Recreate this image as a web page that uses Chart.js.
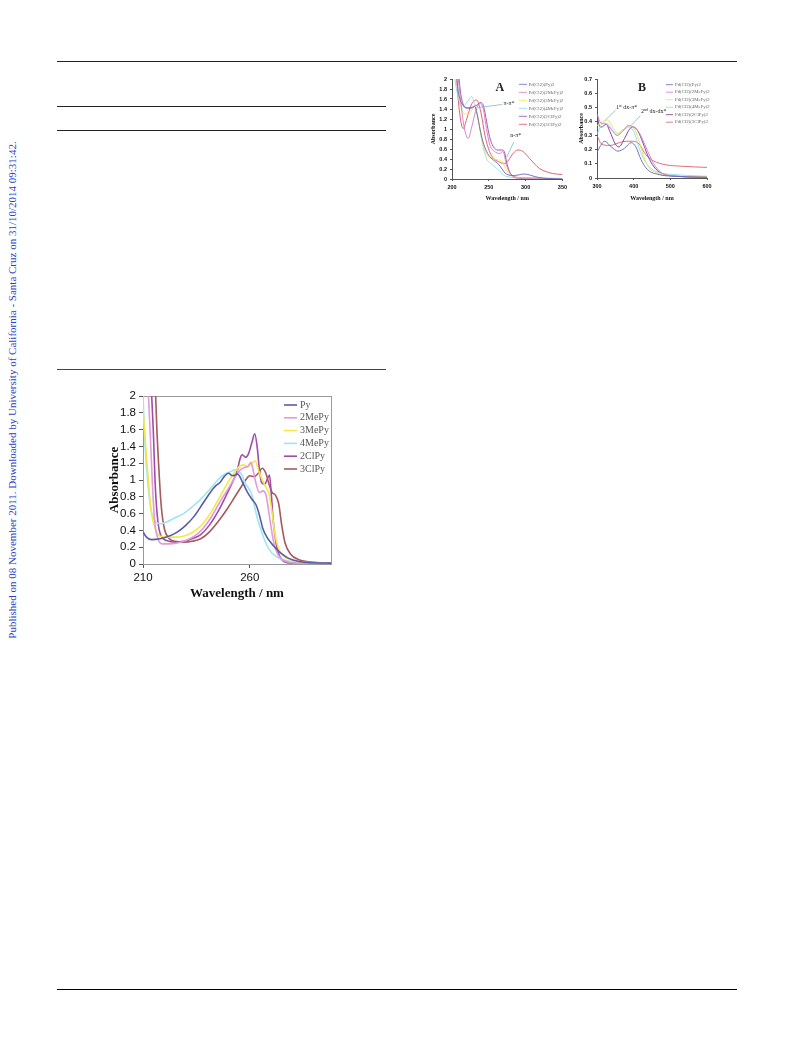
<!DOCTYPE html>
<html>
<head>
<meta charset="utf-8">
<script src="https://cdn.jsdelivr.net/npm/chart.js@4.4.0/dist/chart.umd.min.js"></script>
<style>
  body { margin: 0; background: #fff; width: 793px; height: 1039px; position: relative; overflow: hidden; }
  .rule { position: absolute; height: 1px; background: #222; }
  .side { position: absolute; left: 12px; top: 390px; transform: translate(-50%, -50%) rotate(-90deg);
          white-space: nowrap; font: 11px "Liberation Serif", serif; color: #2b3fc6; }
  .box { position: absolute; }
</style>
</head>
<body>
<div class="rule" style="left:57px;top:61px;width:680px"></div>
<div class="rule" style="left:57px;top:106px;width:329px"></div>
<div class="rule" style="left:57px;top:130px;width:329px"></div>
<div class="rule" style="left:57px;top:369px;width:329px;background:#444"></div>
<div class="rule" style="left:57px;top:989px;width:680px;background:#000"></div>
<div class="side">Published on 08 November 2011. Downloaded by University of California - Santa Cruz on 31/10/2014 09:31:42.</div>

<div class="box" style="left:415px;top:72px"><canvas id="chartA" width="155" height="135"></canvas></div>
<div class="box" style="left:573px;top:72px"><canvas id="chartB" width="142" height="135"></canvas></div>
<div class="box" style="left:100px;top:385px"><canvas id="chartMain" width="240" height="220"></canvas></div>

<script>
// ---- main figure: free ligands ----
const mainNames = ['Py', '2MePy', '3MePy', '4MePy', '2ClPy', '3ClPy'];
const mainXTicks = [210, 260];
const mainPy = [[210,0.38],[212,0.31],[214,0.29],[218,0.3],[222,0.33],[226,0.38],[230,0.46],[234,0.57],[238,0.72],[242,0.87],[244,0.93],[246,0.97],[248,1.04],[250,1.08],[252,1.05],[254.3,1.07],[257,0.95],[259,0.85],[261,0.77],[263,0.7],[264.5,0.58],[266,0.43],[268,0.32],[270,0.25],[272,0.19],[275,0.12],[278,0.07],[283,0.03],[290,0.015],[298,0.01]];
const main2MePy = [[212,2.3],[213.3,1.6],[214.5,0.9],[215.5,0.5],[217,0.3],[219,0.24],[222,0.24],[226,0.25],[230,0.28],[234,0.33],[238,0.42],[242,0.56],[246,0.74],[250,0.9],[253,1.03],[255.5,1.12],[257.5,1.15],[259,1.16],[260.5,1.21],[261.7,1.1],[263,0.95],[264.5,0.85],[266,0.87],[267.5,0.83],[269,0.6],[270.5,0.35],[272,0.18],[274,0.08],[277,0.03],[282,0.01],[298,0.01]];
const main3MePy = [[210,1.85],[211,1.5],[212.5,1.0],[214,0.6],[216,0.4],[218,0.33],[222,0.32],[226,0.32],[230,0.34],[234,0.39],[238,0.48],[242,0.62],[246,0.8],[250,0.98],[253,1.1],[255,1.16],[257,1.18],[259,1.16],[261,1.2],[262.5,1.23],[264,1.12],[265.5,1.02],[267,0.94],[269,0.83],[270.5,0.6],[271.6,0.38],[273,0.22],[274.5,0.13],[277,0.07],[282,0.03],[290,0.015],[298,0.01]];
const main4MePy = [[209.5,2.3],[210,2.0],[211,1.4],[212.5,0.9],[214,0.62],[216,0.5],[218,0.48],[221,0.5],[225,0.55],[229,0.6],[233,0.68],[237,0.77],[241,0.88],[244,0.97],[247,1.05],[249,1.08],[251,1.1],[253,1.12],[255,1.1],[256.5,1.05],[258,0.95],[259.5,0.9],[261,0.82],[262.5,0.65],[264,0.5],[266,0.35],[268,0.22],[270,0.14],[273,0.08],[277,0.04],[283,0.02],[298,0.01]];
const main2ClPy = [[213.5,2.3],[214.8,1.6],[215.8,0.9],[217,0.5],[218.5,0.33],[221,0.28],[225,0.26],[229,0.27],[233,0.3],[237,0.35],[241,0.46],[245,0.62],[249,0.82],[252,0.98],[254,1.1],[255.5,1.26],[256.5,1.3],[258,1.27],[259.5,1.32],[261,1.45],[262.3,1.55],[263.5,1.38],[264.5,1.12],[265.5,0.97],[267,0.95],[268,1.0],[269.2,1.06],[270,0.85],[271,0.5],[272.5,0.22],[274,0.09],[276,0.03],[280,0.01],[298,0.0]];
const main3ClPy = [[215.5,2.3],[216.5,1.6],[217.5,1.1],[218.5,0.7],[220,0.42],[222,0.31],[225,0.27],[229,0.26],[233,0.27],[237,0.3],[241,0.38],[245,0.5],[249,0.64],[253,0.8],[256,0.92],[258,1.0],[260,1.05],[262,1.04],[264,1.08],[265.8,1.14],[267.5,1.08],[269,0.95],[270.5,0.85],[272,0.82],[273.5,0.72],[275,0.45],[276.5,0.25],[279,0.12],[283,0.05],[290,0.02],[298,0.01]];

// ---- panel A: complexes, UV ----
const complexNames = ['Pd(Cl2)(Py)2', 'Pd(Cl2)(2MePy)2', 'Pd(Cl2)(3MePy)2', 'Pd(Cl2)(4MePy)2', 'Pd(Cl2)(2ClPy)2', 'Pd(Cl2)(3ClPy)2'];
const aPy = [[205,2.3],[208,1.8],[212,1.55],[217,1.45],[222,1.42],[227,1.42],[231,1.45],[234,1.3],[238,1.0],[242,0.75],[247,0.55],[253,0.42],[259,0.35],[264,0.28],[268,0.2],[272,0.12],[277,0.08],[283,0.07],[290,0.08],[297,0.1],[303,0.09],[310,0.06],[318,0.03],[330,0.01],[350,0.0]];
const a2MePy = [[206,2.3],[208.6,2.0],[213,1.4],[217,1.0],[222,0.81],[227,1.05],[232,1.35],[237.8,1.51],[242.3,1.41],[246.8,1.01],[251.4,0.68],[258,0.55],[265,0.51],[269.4,0.55],[274,0.28],[280.6,0.08],[292,0.01],[350,0.0]];
const a3MePy = [[204,2.3],[207,1.9],[212,1.45],[217,1.3],[222,1.3],[227,1.38],[231,1.45],[234,1.35],[238,1.0],[242,0.7],[247,0.5],[253,0.42],[258,0.4],[263,0.38],[266,0.37],[270,0.3],[274,0.18],[279,0.08],[285,0.03],[300,0.01],[350,0.0]];
const a4MePy = [[202,2.3],[204,2.0],[209,1.6],[215.3,1.45],[221,1.55],[226.6,1.65],[231,1.48],[235.6,1.21],[240,0.81],[246.8,0.41],[252,0.32],[258,0.25],[265,0.15],[274,0.05],[300,0.02],[350,0.01]];
const a2ClPy = [[208,2.3],[211,1.8],[215,1.5],[219,1.42],[224,1.42],[229,1.45],[234,1.48],[239,1.53],[243,1.45],[247,1.15],[251,0.85],[256,0.65],[262,0.58],[268,0.58],[271,0.55],[274,0.35],[278,0.15],[283,0.06],[290,0.03],[300,0.02],[350,0.01]];
const a3ClPy = [[204,2.3],[206.3,2.0],[209,1.5],[213,1.08],[215.3,1.01],[220,1.2],[226,1.48],[233.3,1.58],[240,1.28],[244.6,0.88],[251,0.55],[256,0.42],[262.6,0.35],[271.6,0.31],[277,0.38],[282.9,0.51],[289.6,0.58],[296.4,0.55],[305.4,0.41],[319,0.21],[337,0.11],[350,0.09]];
const aLabels = ['A', 'π-π*', 'n-π*'];
const aLabelAt = [[265,1.82],[270,1.52],[279,0.87]];
const aArrowFrom = [null,[268,1.49],[284,0.74]];
const aArrowTo = [null,[235.5,1.43],[274,0.43]];

// ---- panel B: complexes, visible ----
const bPy = [[300,0.18],[310,0.23],[321,0.26],[339,0.22],[357,0.19],[375,0.21],[393,0.25],[406,0.22],[420,0.13],[437.5,0.06],[469,0.024],[513,0.012],[600,0.005]];
const b2MePy = [[300,0.45],[310,0.39],[325,0.38],[340,0.34],[355,0.3],[370,0.33],[385,0.37],[400,0.36],[415,0.32],[430,0.24],[445,0.15],[460,0.08],[480,0.03],[520,0.012],[600,0.005]];
const b3MePy = [[300,0.37],[315,0.4],[328,0.41],[345,0.35],[358,0.31],[372,0.34],[385,0.37],[398,0.36],[410,0.3],[425,0.17],[440,0.08],[470,0.03],[520,0.015],[600,0.008]];
const b4MePy = [[300,0.31],[317,0.39],[330,0.38],[352.7,0.31],[370.5,0.34],[388,0.36],[402,0.32],[415,0.21],[433,0.11],[460,0.047],[513,0.024],[600,0.012]];
const b2ClPy = [[300,0.48],[305,0.38],[312,0.36],[325,0.38],[335,0.33],[350,0.24],[360,0.22],[375,0.28],[390,0.35],[400,0.36],[412,0.33],[425,0.25],[440,0.15],[455,0.08],[475,0.035],[520,0.012],[600,0.005]];
const b3ClPy = [[300,0.3],[312.5,0.24],[335,0.23],[361,0.25],[379.5,0.26],[397,0.26],[415,0.24],[433,0.165],[455,0.12],[486.6,0.094],[531,0.083],[600,0.075]];
const bLabels = ['B', '1|st| dx-π*', '2|nd| dx-dx*'];
const bLabelAt = [[423,0.64],[352,0.5],[420,0.47]];
const bArrowFrom = [null,[351,0.48],[418,0.44]];
const bArrowTo = [null,[323,0.41],[393,0.37]];

const mainColors = ['#5a5ca6', '#e39ad9', '#f3e84a', '#9fe5f0', '#a24ca8', '#a65a5b'];
const aColors = ['#6466b8', '#cf78cc', '#f3e54a', '#88dcee', '#9a48aa', '#e05068'];
const bColors = ['#6466b8', '#cf78cc', '#eee24a', '#88dcee', '#7a2f8c', '#d8606e'];

const toXY = pts => pts.map(([x, y]) => ({x, y}));

// legend drawn inside the plot area, from the dataset labels/colours
const insideLegend = {
  id: 'insideLegend',
  afterDatasetsDraw(chart, args, o) {
    const {ctx, chartArea} = chart;
    ctx.save();
    ctx.font = o.font;
    ctx.textBaseline = 'middle';
    chart.data.datasets.forEach((ds, i) => {
      const y = chartArea.top + o.top + i * o.rowH;
      const x0 = chartArea.left + o.left;
      ctx.strokeStyle = ds.borderColor;
      ctx.lineWidth = o.lineW;
      ctx.beginPath(); ctx.moveTo(x0, y); ctx.lineTo(x0 + o.lineLen, y); ctx.stroke();
      ctx.fillStyle = o.color;
      ctx.fillText(ds.label, x0 + o.lineLen + o.gap, y);
    });
    ctx.restore();
  }
};

// text notes + arrows, placed in data coordinates
const notes = {
  id: 'notes',
  afterDatasetsDraw(chart, args, o) {
    if (!o.labels) return;
    const {ctx} = chart;
    const sx = chart.scales.x, sy = chart.scales.y;
    ctx.save();
    o.labels.forEach((txt, i) => {
      const [lx, ly] = o.at[i];
      let px = sx.getPixelForValue(lx), py = sy.getPixelForValue(ly);
      ctx.fillStyle = '#222';
      ctx.textBaseline = 'middle';
      ctx.textAlign = 'left';
      if (i === 0) {
        ctx.font = o.bigFont;
        ctx.textAlign = 'center';
        ctx.fillText(txt, px, py);
      } else {
        // "|" marks a superscript part
        txt.split('|').forEach((part, k) => {
          const sup = k % 2 === 1;
          ctx.font = sup ? o.supFont : o.font;
          ctx.fillText(part, px, sup ? py - 1.5 : py);
          px += ctx.measureText(part).width;
        });
      }
      if (o.from[i]) {
        ctx.strokeStyle = '#7fb8d8';
        ctx.lineWidth = 0.8;
        ctx.beginPath();
        ctx.moveTo(sx.getPixelForValue(o.from[i][0]), sy.getPixelForValue(o.from[i][1]));
        ctx.lineTo(sx.getPixelForValue(o.to[i][0]), sy.getPixelForValue(o.to[i][1]));
        ctx.stroke();
      }
    });
    ctx.restore();
  }
};

const frame = {
  id: 'frame',
  beforeDatasetsDraw(chart, args, o) {
    if (!o.color) return;
    const {ctx, chartArea: a} = chart;
    ctx.save();
    ctx.strokeStyle = o.color;
    ctx.lineWidth = 1;
    ctx.strokeRect(a.left + 0.5, a.top + 0.5, a.right - a.left, a.bottom - a.top);
    ctx.restore();
  }
};

function makeChart(id, cfg) {
  const datasets = cfg.series.map((pts, i) => ({
    label: cfg.names[i],
    data: toXY(pts),
    borderColor: cfg.colors[i],
    borderWidth: cfg.lineW,
    pointRadius: 0,
    fill: false,
    cubicInterpolationMode: 'monotone'
  }));
  const tickFont = {family: '"Liberation Sans", Arial, sans-serif', size: cfg.tickSize, weight: cfg.tickWeight};
  const titleFont = {family: '"Liberation Serif", "Times New Roman", serif', size: cfg.titleSize, weight: 'bold'};
  return new Chart(document.getElementById(id), {
    type: 'line',
    data: {datasets},
    plugins: [frame, insideLegend, notes],
    options: {
      responsive: false,
      animation: false,
      layout: {padding: cfg.padding},
      plugins: {
        legend: {display: false},
        tooltip: {enabled: false},
        frame: {color: cfg.frameColor},
        insideLegend: cfg.legend,
        notes: cfg.notes || {}
      },
      scales: {
        x: {
          type: 'linear',
          min: cfg.xMin, max: cfg.xMax,
          afterBuildTicks: s => { s.ticks = cfg.xTicks.map(v => ({value: v})); },
          afterFit: s => { s.height = cfg.xHeight; },
          grid: {display: true, drawOnChartArea: false, drawTicks: true, tickLength: cfg.tickLen, color: '#555'},
          border: {display: true, color: '#555', width: 1},
          ticks: {font: tickFont, color: '#111', padding: cfg.tickPad, maxRotation: 0, autoSkip: false},
          title: {display: true, text: 'Wavelength / nm', font: titleFont, color: '#111', padding: cfg.xTitlePad}
        },
        y: {
          min: 0, max: cfg.yMax,
          ticks: {stepSize: cfg.yStep, font: tickFont, color: '#111', padding: cfg.tickPad, autoSkip: false,
                  callback: v => String(+v.toFixed(2))},
          afterFit: s => { s.width = cfg.yWidth; },
          grid: {display: true, drawOnChartArea: false, drawTicks: true, tickLength: cfg.tickLen, color: '#555'},
          border: {display: true, color: '#555', width: 1},
          title: {display: true, text: 'Absorbance', font: titleFont, color: '#111', padding: cfg.yTitlePad}
        }
      }
    }
  });
}

makeChart('chartMain', {
  series: [mainPy, main2MePy, main3MePy, main4MePy, main2ClPy, main3ClPy],
  names: mainNames, colors: mainColors, lineW: 1.6,
  xMin: 210, xMax: 298, xTicks: mainXTicks, yMax: 2, yStep: 0.2,
  padding: {top: 11, right: 9, left: 0, bottom: 0},
  xHeight: 41, yWidth: 43,
  tickSize: 11.5, tickWeight: 'normal', tickLen: 4, tickPad: 3,
  titleSize: 13, xTitlePad: {top: 2, bottom: 4}, yTitlePad: {top: 7, bottom: 2},
  frameColor: '#9a9a9a',
  legend: {font: '10px "Liberation Serif", serif', color: '#555', left: 141, lineLen: 13, gap: 3, top: 9, rowH: 12.8, lineW: 1.6}
});

makeChart('chartA', {
  series: [aPy, a2MePy, a3MePy, a4MePy, a2ClPy, a3ClPy],
  names: complexNames, colors: aColors, lineW: 0.9,
  xMin: 200, xMax: 350, xTicks: [200, 250, 300, 350], yMax: 2, yStep: 0.2,
  padding: {top: 7, right: 7, left: 0, bottom: 0},
  xHeight: 28, yWidth: 37,
  tickSize: 5.5, tickWeight: 'bold', tickLen: 2, tickPad: 3,
  titleSize: 6, xTitlePad: {top: 2, bottom: 5}, yTitlePad: {top: 15, bottom: 2},
  legend: {font: '4.8px "Liberation Serif", serif', color: '#666', left: 67, lineLen: 8, gap: 1.5, top: 5.3, rowH: 8, lineW: 0.8},
  notes: {labels: aLabels, at: aLabelAt, from: aArrowFrom, to: aArrowTo,
          bigFont: 'bold 12px "Liberation Serif", serif', font: '6px "Liberation Serif", serif', supFont: '4px "Liberation Serif", serif'}
});

makeChart('chartB', {
  series: [bPy, b2MePy, b3MePy, b4MePy, b2ClPy, b3ClPy],
  names: complexNames, colors: bColors, lineW: 0.9,
  xMin: 300, xMax: 600, xTicks: [300, 400, 500, 600], yMax: 0.7, yStep: 0.1,
  padding: {top: 7, right: 8, left: 0, bottom: 0},
  xHeight: 29, yWidth: 24,
  tickSize: 5.5, tickWeight: 'bold', tickLen: 2, tickPad: 3,
  titleSize: 6, xTitlePad: {top: 2, bottom: 5}, yTitlePad: {top: 5, bottom: 1},
  legend: {font: '4.8px "Liberation Serif", serif', color: '#666', left: 69, lineLen: 7, gap: 2, top: 5.7, rowH: 7.5, lineW: 0.8},
  notes: {labels: bLabels, at: bLabelAt, from: bArrowFrom, to: bArrowTo,
          bigFont: 'bold 12px "Liberation Serif", serif', font: '6px "Liberation Serif", serif', supFont: '4px "Liberation Serif", serif'}
});
</script>
</body>
</html>
